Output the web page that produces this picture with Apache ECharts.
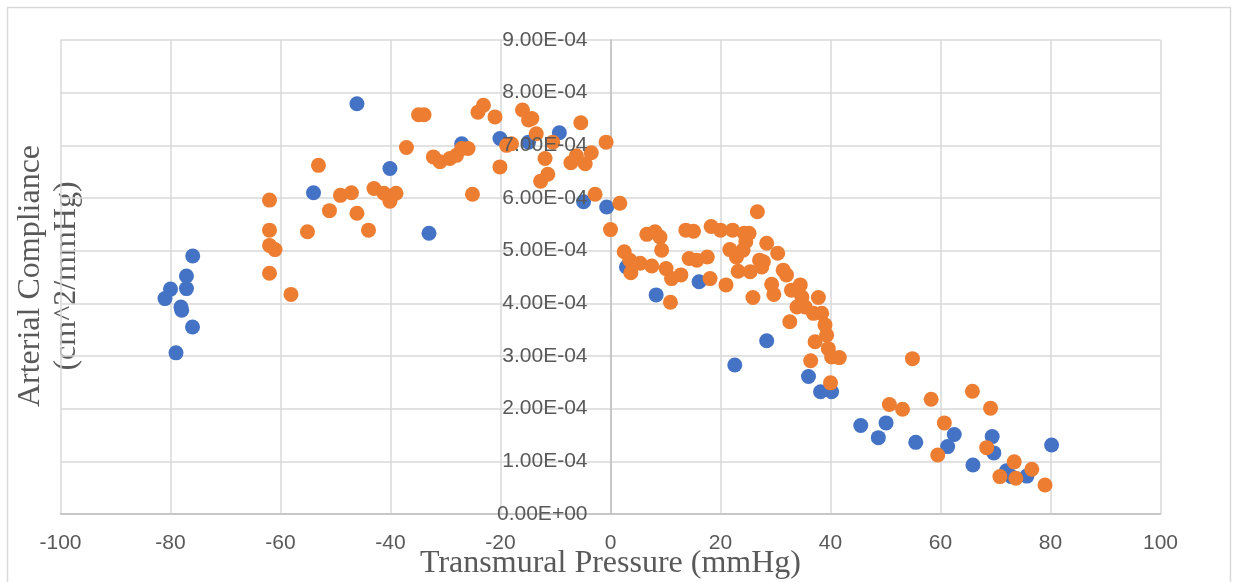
<!DOCTYPE html>
<html>
<head>
<meta charset="utf-8">
<style>
  html, body { margin: 0; padding: 0; background: #fff; }
  #chart { width: 1237px; height: 582px; }
</style>
<script src="https://cdn.jsdelivr.net/npm/echarts@6.0.0/dist/echarts.min.js"></script>
</head>
<body>
<div id="chart"></div>
<script>
// 数据：两组散点（蓝 / 橙），x 为跨壁压，y 为动脉顺应性
var blueX = [-75.96, -77.1, -77.1, -80.0, -81.0, -78.1, -77.96, -76.0, -79.0, -46.1,
    -54.0, -40.1, -33.0, -27.05, -20.1, -14.9, -9.3, -4.9, -0.7, 2.9,
    8.3, 16.1, 22.6, 28.4, 36.0, 38.2, 40.2, 45.5, 50.1, 48.7,
    55.5, 62.5, 61.3, 65.9, 69.4, 69.7, 72.0, 72.9, 75.7, 80.2];
var blueY = [4.90e-4, 4.52e-4, 4.28e-4, 4.27e-4, 4.09e-4, 3.93e-4, 3.87e-4, 3.55e-4, 3.06e-4, 7.79e-4,
    6.10e-4, 6.56e-4, 5.33e-4, 7.03e-4, 7.13e-4, 7.06e-4, 7.24e-4, 5.93e-4, 5.83e-4, 4.69e-4,
    4.16e-4, 4.41e-4, 2.83e-4, 3.29e-4, 2.61e-4, 2.32e-4, 2.32e-4, 1.68e-4, 1.73e-4, 1.45e-4,
    1.36e-4, 1.51e-4, 1.28e-4, 0.93e-4, 1.47e-4, 1.16e-4, 0.82e-4, 0.71e-4, 0.72e-4, 1.31e-4];

var orangeX = [-62.0, -62.0, -62.0, -61.0, -62.0, -58.1, -53.1, -55.1, -51.1, -49.1,
    -47.1, -46.1, -44.0, -43.0, -41.2, -40.1, -39.0, -37.1, -34.9, -33.9,
    -32.2, -31.0, -29.2, -28.0, -27.05, -25.9, -25.1, -24.1, -23.1, -21.0,
    -20.1, -18.9, -18.0, -16.0, -14.9, -14.3, -13.5, -11.9, -12.7, -11.4,
    -10.5, -5.4, -7.2, -6.2, -4.6, -3.5, -0.8, -2.8, 1.7, 0.0,
    2.5, 3.5, 5.4, 3.7, 7.5, 6.6, 8.1, 9.0, 9.3, 10.1,
    11.1, 12.8, 10.9, 13.7, 15.1, 14.3, 15.7, 17.6, 18.1, 18.3,
    20.0, 22.2, 21.7, 22.9, 23.2, 24.3, 25.2, 24.6, 24.1, 25.4,
    21.0, 25.9, 26.7, 28.4, 27.8, 27.1, 27.5, 29.3, 29.7, 30.4,
    31.4, 32.0, 32.9, 34.5, 34.8, 33.9, 35.4, 37.8, 36.9, 38.4,
    32.6, 39.0, 39.3, 37.2, 39.6, 40.2, 41.6, 36.4, 40.0, 54.9,
    50.7, 53.1, 58.3, 60.7, 59.5, 65.8, 69.1, 68.4, 73.4, 70.8,
    73.7, 76.6, 79.0];
var orangeY = [5.96e-4, 5.39e-4, 5.10e-4, 5.02e-4, 4.57e-4, 4.17e-4, 6.62e-4, 5.36e-4, 5.76e-4, 6.05e-4,
    6.10e-4, 5.71e-4, 5.39e-4, 6.18e-4, 6.09e-4, 5.94e-4, 6.09e-4, 6.96e-4, 7.58e-4, 7.58e-4,
    6.78e-4, 6.69e-4, 6.75e-4, 6.81e-4, 6.94e-4, 6.94e-4, 6.07e-4, 7.63e-4, 7.76e-4, 7.54e-4,
    6.59e-4, 7.00e-4, 7.03e-4, 7.67e-4, 7.48e-4, 7.51e-4, 7.22e-4, 6.75e-4, 6.32e-4, 6.45e-4,
    7.06e-4, 7.43e-4, 6.67e-4, 6.80e-4, 6.65e-4, 6.86e-4, 7.06e-4, 6.07e-4, 5.90e-4, 5.40e-4,
    4.98e-4, 4.82e-4, 4.76e-4, 4.58e-4, 4.71e-4, 5.31e-4, 5.36e-4, 5.26e-4, 5.01e-4, 4.66e-4,
    4.47e-4, 4.54e-4, 4.02e-4, 5.39e-4, 5.37e-4, 4.85e-4, 4.82e-4, 4.88e-4, 4.47e-4, 5.46e-4,
    5.39e-4, 5.39e-4, 5.02e-4, 4.88e-4, 4.61e-4, 5.33e-4, 5.33e-4, 5.17e-4, 5.01e-4, 4.60e-4,
    4.35e-4, 4.11e-4, 5.74e-4, 5.14e-4, 4.79e-4, 4.82e-4, 4.69e-4, 4.36e-4, 4.17e-4, 4.95e-4,
    4.63e-4, 4.54e-4, 4.25e-4, 4.35e-4, 4.12e-4, 3.93e-4, 3.93e-4, 4.11e-4, 3.81e-4, 3.81e-4,
    3.65e-4, 3.59e-4, 3.40e-4, 3.27e-4, 3.14e-4, 2.98e-4, 2.97e-4, 2.91e-4, 2.49e-4, 2.95e-4,
    2.08e-4, 1.99e-4, 2.18e-4, 1.73e-4, 1.12e-4, 2.33e-4, 2.01e-4, 1.26e-4, 0.99e-4, 0.71e-4,
    0.68e-4, 0.85e-4, 0.55e-4];

// 坐标轴刻度
var xTicks = { min: -100, max: 100, step: 20 };
var yTicks = { min: 0, max: 9e-4, step: 1e-4 };

function pairs(xs, ys) {
    var out = [];
    for (var i = 0; i < xs.length; i++) {
        out.push([xs[i], ys[i]]);
    }
    return out;
}

// 科学计数法标签，例如 9.00E-04
function sci(v) {
    var s = v.toExponential(2).toUpperCase();
    var parts = s.split('E');
    var exp = parseInt(parts[1], 10);
    var sign = exp < 0 ? '-' : '+';
    var e = Math.abs(exp);
    return parts[0] + 'E' + sign + (e < 10 ? '0' + e : e);
}

var chart = echarts.init(document.getElementById('chart'));

var gray = '#595959';
var labelFont = 'Liberation Sans';
var titleFont = 'Liberation Serif';

var option = {
    animation: false,
    backgroundColor: '#fff',
    grid: {
        left: 60.5,
        right: 76.5,
        top: 40,
        bottom: 68,
        containLabel: false,
        outerBoundsMode: 'none'
    },
    xAxis: {
        type: 'value',
        min: xTicks.min,
        max: xTicks.max,
        interval: xTicks.step,
        axisLine: { show: true, lineStyle: { color: '#bfbfbf', width: 1.5 } },
        axisTick: { show: false },
        axisLabel: { margin: 19, fontFamily: labelFont, fontSize: 21, color: gray },
        splitLine: { show: true, lineStyle: { color: '#d9d9d9', width: 1.5 } }
    },
    yAxis: [{
        type: 'value',
        position: 'left',
        min: yTicks.min,
        max: yTicks.max,
        interval: yTicks.step,
        axisLine: { show: true, onZero: true, lineStyle: { color: '#bfbfbf', width: 1.5 } },
        axisTick: { show: false },
        axisLabel: { show: false },
        splitLine: { show: true, lineStyle: { color: '#d9d9d9', width: 1.5 } }
    }, {
        // 只画标签，移到 x=0 处并盖在散点之上
        type: 'value',
        position: 'left',
        offset: -550,
        z: 10,
        min: yTicks.min,
        max: yTicks.max,
        interval: yTicks.step,
        axisLine: { show: false, onZero: false },
        axisTick: { show: false },
        splitLine: { show: false },
        axisLabel: {
            margin: 23,
            fontFamily: labelFont,
            fontSize: 21,
            color: gray,
            formatter: sci
        }
    }],
    graphic: [{
        type: 'rect',
        shape: { x: 7.5, y: 7.5, width: 1223, height: 600 },
        style: { fill: 'none', stroke: '#d9d9d9', lineWidth: 1.5 },
        silent: true
    }, {
        // 纵轴标题
        type: 'text',
        x: 49,
        y: 276,
        rotation: Math.PI / 2,
        style: {
            text: 'Arterial Compliance\n(cm^2/mmHg)',
            fontFamily: titleFont,
            fontSize: 32,
            lineHeight: 36,
            fill: gray,
            align: 'center',
            verticalAlign: 'middle'
        }
    }, {
        // 横轴标题
        type: 'text',
        x: 610.5,
        y: 564,
        style: {
            text: 'Transmural Pressure (mmHg)',
            fontFamily: titleFont,
            fontSize: 32,
            fill: gray,
            align: 'center',
            verticalAlign: 'middle'
        }
    }],
    series: [{
        type: 'scatter',
        yAxisIndex: 0,
        symbolSize: 15,
        itemStyle: { color: '#4472C4', opacity: 1 },
        data: pairs(blueX, blueY)
    }, {
        type: 'scatter',
        yAxisIndex: 0,
        symbolSize: 15,
        itemStyle: { color: '#ED7D31', opacity: 1 },
        data: pairs(orangeX, orangeY)
    }]
};

chart.setOption(option);
</script>
</body>
</html>
